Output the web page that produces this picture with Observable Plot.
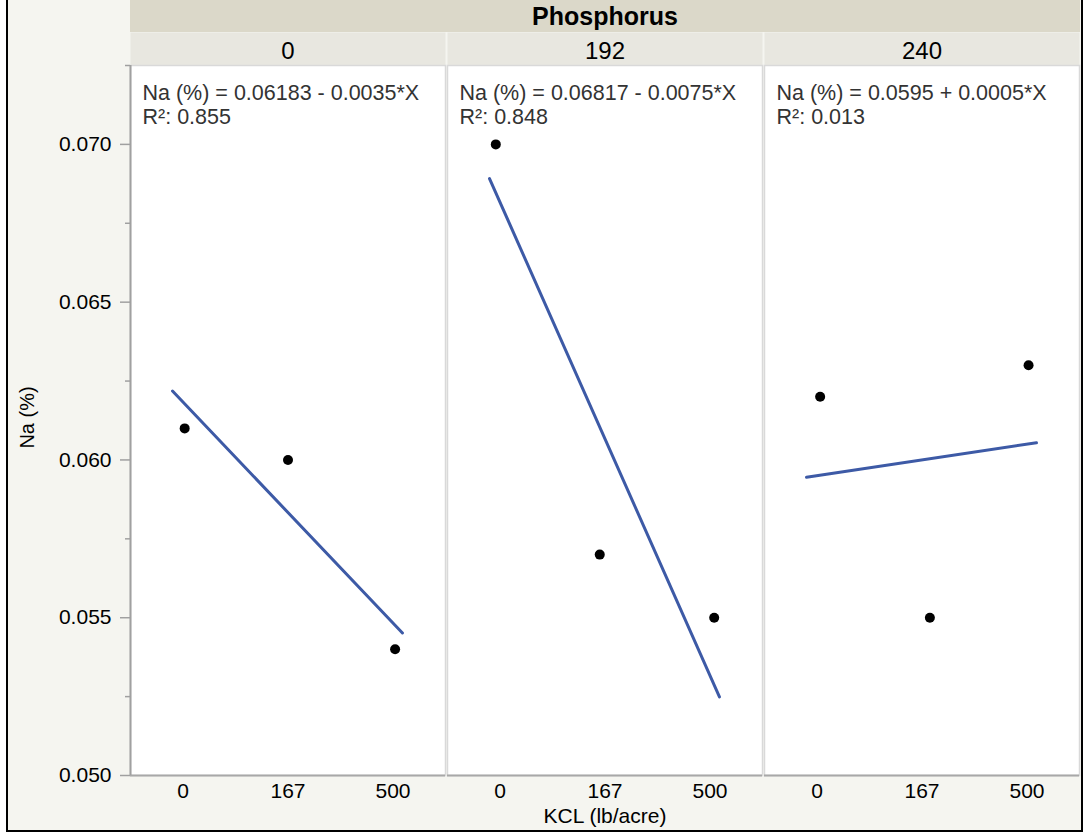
<!DOCTYPE html>
<html><head><meta charset="utf-8">
<script src="https://cdn.jsdelivr.net/npm/d3@7"></script>
<script src="https://cdn.jsdelivr.net/npm/@observablehq/plot@0.6"></script>
<style>
body{margin:0;background:#fff;font-family:"Liberation Sans",Arial,sans-serif;}
#wrap{position:relative;width:1089px;height:833px;overflow:hidden;}
#bg{position:absolute;left:6px;top:-3px;width:1073px;height:831px;border:2px solid #000;background:#f5f5f0;}
#band{position:absolute;left:130px;top:0;width:950px;height:32px;background:#dbd8c9;text-align:center;font-weight:bold;font-size:25px;line-height:33px;color:#000;}
#chart{position:absolute;left:0;top:0;}
</style></head><body>
<div id="wrap"><div id="bg"></div><div id="band">Phosphorus</div><div id="chart"></div></div>
<script>
// ---- data ----
const phosphorus = ["0", "192", "240"];
const kclLabels = ["0", "167", "500"];
const naP0   = [0.061, 0.060, 0.054];
const naP192 = [0.070, 0.057, 0.055];
const naP240 = [0.062, 0.055, 0.063];
// horizontal jitter of the points (category units), as seen in the picture
const jitP0   = [0.016, 0.0, 0.02];
const jitP192 = [-0.04, -0.05, 0.04];
const jitP240 = [0.03, 0.075, 0.015];
const eqLabels = ["Na (%) = 0.06183 - 0.0035*X", "Na (%) = 0.06817 - 0.0075*X", "Na (%) = 0.0595 + 0.0005*X"];
const r2Labels = ["R²: 0.855", "R²: 0.848", "R²: 0.013"];
const fitRange = [-0.1, 2.09];
const yTicks = [0.050, 0.055, 0.060, 0.065, 0.070];
const yMinor = [0.0525, 0.0575, 0.0625, 0.0675, 0.0725];

// ---- tables built from the arrays ----
const naByP = [naP0, naP192, naP240];
const jitByP = [jitP0, jitP192, jitP240];
const rows = phosphorus.flatMap((p, i) => kclLabels.map((k, j) => ({p, idx: j, na: naByP[i][j], jit: jitByP[i][j]})));
const fitRows = phosphorus.flatMap((p, i) => {
  const ys = naByP[i], xs = ys.map((_, j) => j);
  const mx = d3.mean(xs), my = d3.mean(ys);
  const slope = d3.sum(xs, (x, j) => (x - mx) * (ys[j] - my)) / d3.sum(xs, x => (x - mx) ** 2);
  const icpt = my - slope * mx;
  return fitRange.map(X => ({p, X, y: icpt + slope * X}));
});
const annot = phosphorus.map((p, i) => ({p, t: eqLabels[i] + "\n" + r2Labels[i]}));

const chart = Plot.plot({
  width: 1089, height: 833,
  marginLeft: 130, marginRight: 9, marginTop: 65, marginBottom: 58,
  style: {background: "transparent", fontFamily: '"Liberation Sans", Arial, sans-serif', color: "#000"},
  fx: {domain: phosphorus, paddingInner: 0.006, paddingOuter: 0, label: null},
  x: {domain: [-0.5, 2.5], label: null},
  y: {domain: [0.05, 0.0725], label: null},
  marks: [
    Plot.frame({fill: "#e8e7e0", insetTop: -33, insetBottom: 710}),
    Plot.frame({fill: "white", stroke: "#d9d9d9", strokeWidth: 1.5}),
    Plot.ruleY([0.05], {stroke: "#a8a8a8", strokeWidth: 2}),
    Plot.ruleX([{x: -0.5, p: "0"}], {x: "x", fx: "p", stroke: "#a0a0a0", strokeWidth: 2}),
    Plot.axisFx({anchor: "top", tickSize: 0, tickPadding: 7, fontSize: 24, label: null}),
    Plot.axisX({ticks: [0, 1, 2], tickFormat: i => kclLabels[i], tickSize: 0, tickPadding: 8, fontSize: 21, label: null}),
    Plot.axisY({ticks: yTicks, tickSize: 10, tickFormat: () => "", stroke: "#a0a0a0", strokeWidth: 1.5, label: null}),
    Plot.axisY({ticks: yMinor, tickSize: 5, tickFormat: () => "", stroke: "#a0a0a0", strokeWidth: 1.5, label: null}),
    Plot.axisY({ticks: yTicks, tickFormat: d3.format(".3f"), tickSize: 0, tickPadding: 19, fontSize: 21, fill: "#000", label: null}),
    Plot.line(fitRows, {x: "X", y: "y", fx: "p", z: "p", stroke: "#3d5aa6", strokeWidth: 3}),
    Plot.dot(rows, {x: d => d.idx + d.jit, y: "na", fx: "p", r: 5, fill: "black", stroke: null}),
    Plot.text(annot, {text: "t", fx: "p", frameAnchor: "top-left", dx: 12, dy: 17, lineAnchor: "top", textAnchor: "start", fontSize: 21.5, lineHeight: 1.12, fill: "#333"}),
    Plot.text([{t: "Na (%)", p: "0"}], {text: "t", fx: "p", frameAnchor: "left", dx: -103, dy: -3, rotate: -90, textAnchor: "middle", lineAnchor: "middle", fontSize: 20, fill: "#000"}),
    Plot.text([{t: "KCL (lb/acre)", p: "192"}], {text: "t", fx: "p", frameAnchor: "bottom", dy: 41, textAnchor: "middle", lineAnchor: "middle", fontSize: 21, fill: "#000"})
  ]
});
document.getElementById("chart").appendChild(chart);
</script>
</body></html>
